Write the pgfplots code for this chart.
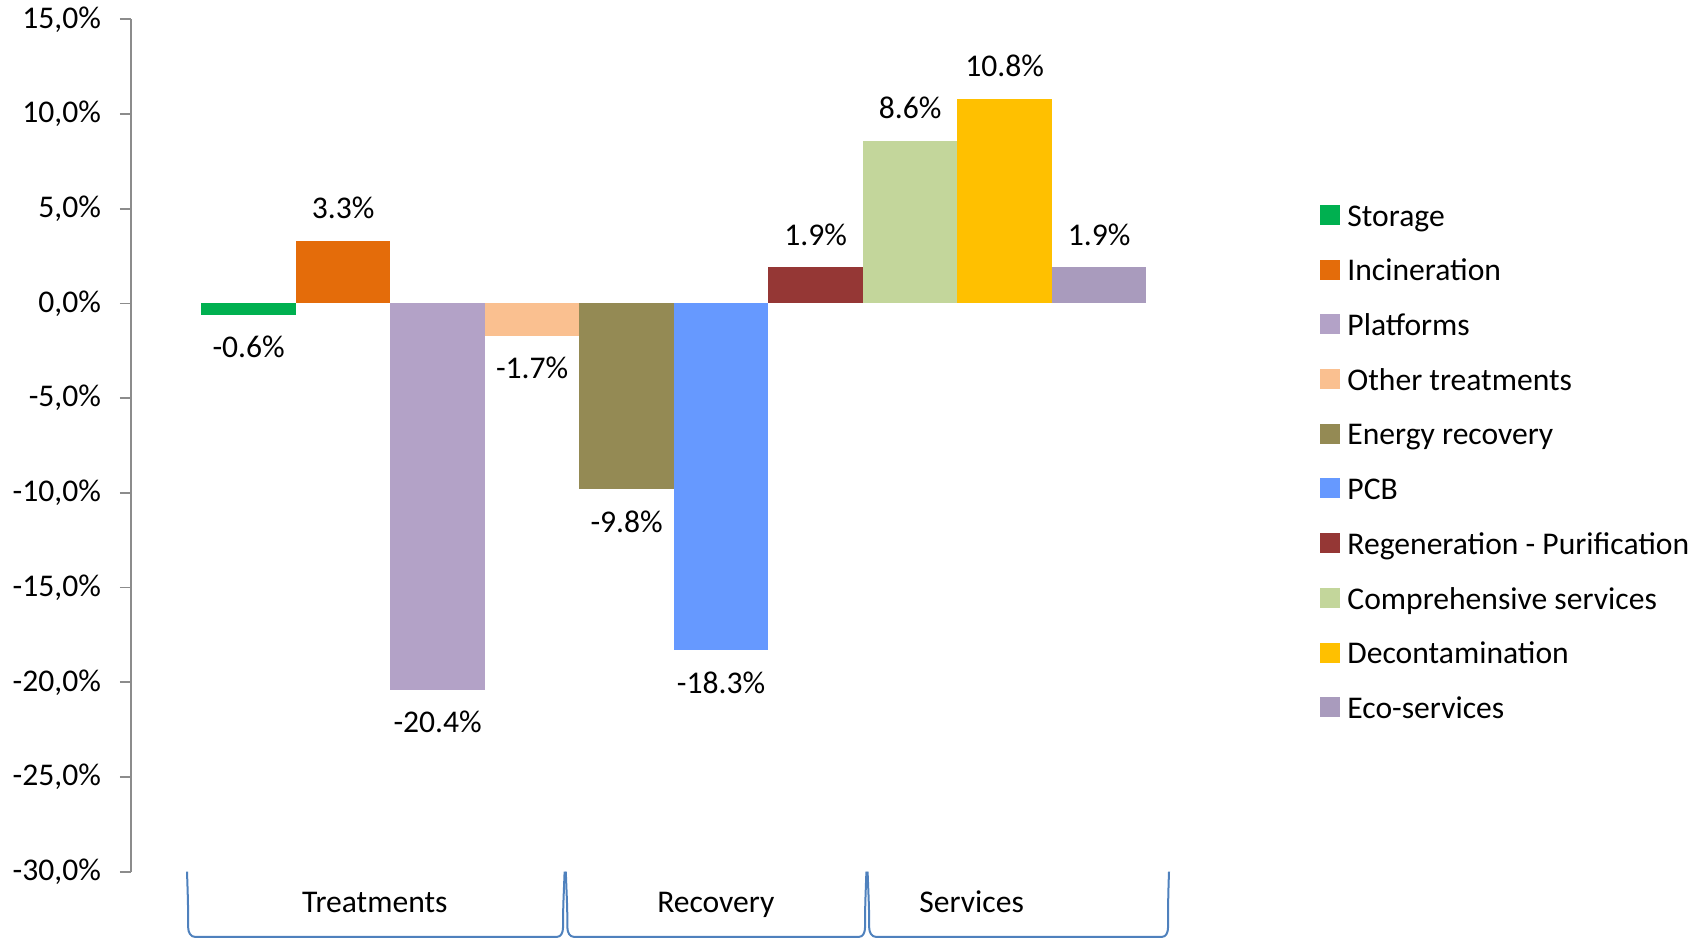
\documentclass[border=0pt]{standalone}
\usepackage{fontspec}
\setmainfont{Carlito}
\usepackage{pgfplots}
\pgfplotsset{compat=1.18}

\definecolor{cStor}{HTML}{00B050}
\definecolor{cInc}{HTML}{E46C0A}
\definecolor{cPlat}{HTML}{B3A2C7}
\definecolor{cOth}{HTML}{FAC090}
\definecolor{cEne}{HTML}{948A54}
\definecolor{cPCB}{HTML}{6699FF}
\definecolor{cReg}{HTML}{953735}
\definecolor{cComp}{HTML}{C3D69B}
\definecolor{cDec}{HTML}{FFC000}
\definecolor{cEco}{HTML}{A99BBD}
\definecolor{brace}{HTML}{4F81BD}

\newcommand{\lab}{\fontsize{15.8pt}{19pt}\selectfont}

\pgfplotsset{
  onebar/.style={ybar, bar width=1, bar shift=0pt, draw=none, fill=#1,
    legend image code/.code={\fill[#1] (0pt,-2.9pt) rectangle (10pt,7.1pt);},
    nodes near coords={\pgfmathprintnumber[fixed,fixed zerofill,precision=1]{\pgfplotspointmeta}\%}},
  poslab/.style={every node near coord/.append style={anchor=base, yshift=11pt, inner sep=0pt, font=\lab, text=black}},
  neglab/.style={every node near coord/.append style={anchor=base, yshift=-21.5pt, inner sep=0pt, font=\lab, text=black}},
}

\begin{document}
\begin{tikzpicture}
\useasboundingbox (-65.5pt,-33.15pt) rectangle (788.5pt,435.85pt);
\begin{axis}[
  at={(0,0)}, anchor=south west,
  scale only axis, width=519.5pt, height=426.2pt,
  xmin=-0.245, xmax=10.75, ymin=-30, ymax=15,
  axis x line=none, axis y line*=left,
  y axis line style={color=gray!90, line width=0.9pt},
  ytick={-30,-25,...,15},
  tick align=outside, major tick length=5.5pt,
  every tick/.style={color=gray!90, line width=0.9pt},
  /pgf/number format/assume math mode=true,
  yticklabel={\pgfmathprintnumber[fixed,fixed zerofill,precision=1,use comma]{\tick}\%},
  yticklabel style={font=\lab, xshift=-6pt},
  legend style={draw=none, fill=none, inner sep=0pt, at={(1.1444,0.7836)}, anchor=north west,
    font=\lab, row sep=12.35pt,
    nodes={inner sep=0pt, text height=11pt, text depth=4pt},
    /tikz/every odd column/.append style={column sep=3.5pt}},
  legend cell align=left,
]
\addplot[onebar=cStor, neglab] coordinates {(1,-0.6)};
\addplot[onebar=cInc, poslab] coordinates {(2,3.3)};
\addplot[onebar=cPlat, neglab] coordinates {(3,-20.4)};
\addplot[onebar=cOth, neglab] coordinates {(4,-1.7)};
\addplot[onebar=cEne, neglab] coordinates {(5,-9.8)};
\addplot[onebar=cPCB, neglab] coordinates {(6,-18.3)};
\addplot[onebar=cReg, poslab] coordinates {(7,1.9)};
\addplot[onebar=cComp, poslab] coordinates {(8,8.6)};
\addplot[onebar=cDec, poslab] coordinates {(9,10.8)};
\addplot[onebar=cEco, poslab] coordinates {(10,1.9)};
\legend{Storage,Incineration,Platforms,Other treatments,Energy recovery,PCB,Regeneration - Purification,Comprehensive services,Decontamination,Eco-services}
\end{axis}
% category brackets below the plot
\begin{scope}[brace, line width=1pt]
\draw (28pt,0pt) to[out=-88,in=90] (28.6pt,-28pt) to[out=-90,in=180] (32pt,-32.6pt) -- (213pt,-32.6pt)
  to[out=0,in=-90] (216pt,-28pt) to[out=90,in=-92] (216.8pt,0pt);
\draw (217.4pt,0pt) to[out=-88,in=90] (218.2pt,-28pt) to[out=-90,in=180] (221.5pt,-32.6pt) -- (364pt,-32.6pt)
  to[out=0,in=-90] (367pt,-28pt) to[out=90,in=-92] (367.7pt,0pt);
\draw (368.3pt,0pt) to[out=-88,in=90] (369.1pt,-28pt) to[out=-90,in=180] (372.5pt,-32.6pt) -- (515.5pt,-32.6pt)
  to[out=0,in=-90] (518.5pt,-28pt) to[out=90,in=-92] (519pt,0pt);
\end{scope}
\node[font=\lab, anchor=base, inner sep=0pt] at (121.9pt,-20.2pt) {Treatments};
\node[font=\lab, anchor=base, inner sep=0pt] at (292.4pt,-20.2pt) {Recovery};
\node[font=\lab, anchor=base, inner sep=0pt] at (420.3pt,-20.2pt) {Services};
\end{tikzpicture}
\end{document}
